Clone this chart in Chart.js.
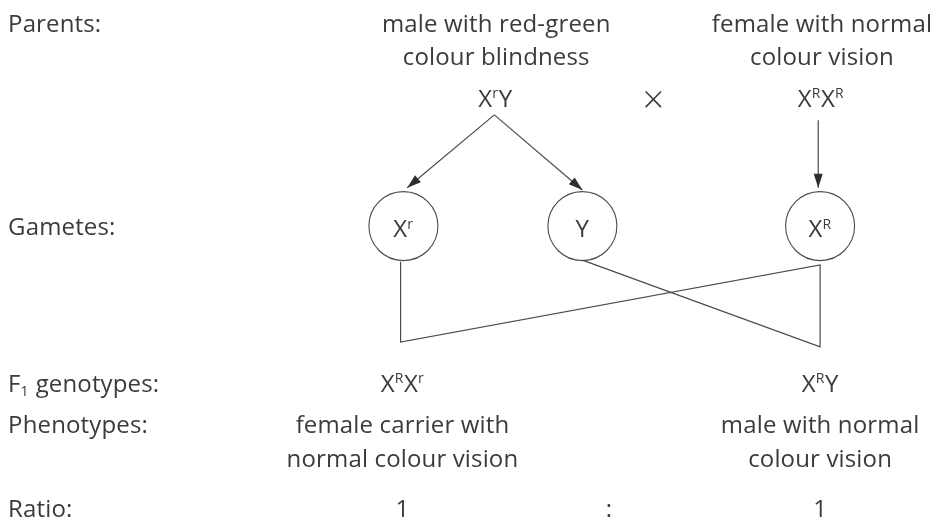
<!DOCTYPE html>
<html>
<head>
<meta charset="utf-8">
<script src="https://cdn.jsdelivr.net/npm/chart.js@4.4.0/dist/chart.umd.min.js"></script>
<style>
  html, body { margin: 0; padding: 0; background: #ffffff; }
  #wrap { width: 947px; height: 532px; position: relative; }
</style>
</head>
<body>
<div id="wrap"><canvas id="c" width="947" height="532"></canvas></div>
<script>
// ---- Diagram data (diagram units: x 0..100 left→right, y 0..100 top→bottom) ----
const rowLabels = ['Parents:', 'Gametes:', 'F_{1} genotypes:', 'Phenotypes:', 'Ratio:'];
const rowY = [6.0, 44.2, 73.7, 81.4, 97.2];

const parentPhenotypes = [['male with red-green', 'colour blindness'], ['female with normal', 'colour vision']];
const parentPhenoY = [6.0, 12.2];
const parentGenotypes = ['X^{r}Y', 'X^{R}X^{R}'];
const parentGenoY = 20.1;
const parentX = [52.4, 86.8];
const crossSymbol = '×';
const crossX = 69.0;
const crossY = 21.2;

const gametes = ['X^{r}', 'Y', 'X^{R}'];
const gameteX = [42.6, 61.5, 86.6];
const gameteY = 42.5;
const gameteTextY = 44.6;

const offspringGenotypes = ['X^{R}X^{r}', 'X^{R}Y'];
const offspringX = [42.5, 86.6];
const offspringPhenotypes = [['female carrier with', 'normal colour vision'], ['male with normal', 'colour vision']];
const offspringPhenoY = [81.4, 87.8];
const ratioValues = ['1', '1'];
const ratioSep = ':';
const ratioSepX = 64.3;

// arrows from parents to gametes
const arrowFrom = [[52.2, 21.6], [52.2, 21.6], [86.4, 22.6]];
const arrowTo = [[43.0, 35.3], [61.5, 35.7], [86.4, 35.3]];

// crossing lines from gametes to offspring
const crossLineX = [42.3, 42.3, 86.6, 86.6, 61.5];
const crossLineY = [49.2, 64.3, 49.8, 65.2, 48.9];

// ---- build datasets ----
const LINE = '#4a4a4a';
const TEXT = '#3b3b3b';
const FONT = '"Open Sans", "Noto Sans", sans-serif';

const datasets = [];
arrowFrom.forEach((f, i) => {
  datasets.push({
    type: 'line', showLine: true, arrow: true,
    data: [{x: f[0], y: f[1]}, {x: arrowTo[i][0], y: arrowTo[i][1]}],
    borderColor: LINE, borderWidth: 1.2, pointRadius: 0, fill: false
  });
});
datasets.push({
  type: 'line', showLine: true,
  data: crossLineX.map((x, i) => ({x, y: crossLineY[i]})),
  borderColor: LINE, borderWidth: 1.2, pointRadius: 0, fill: false, tension: 0
});
datasets.push({
  type: 'scatter',
  data: gameteX.map(x => ({x, y: gameteY})),
  pointRadius: 34.5, pointHoverRadius: 34.5,
  pointBackgroundColor: 'rgba(255,255,255,0)',
  pointBorderColor: LINE, pointBorderWidth: 1.1
});

// ---- labels ----
const labels = [];
rowLabels.forEach((t, i) => labels.push({t, x: 0.85, y: rowY[i], align: 'left', size: 24}));
parentPhenotypes.forEach((lines, i) => lines.forEach((t, j) => labels.push({t, x: parentX[i], y: parentPhenoY[j], align: 'center', size: 24})));
parentGenotypes.forEach((t, i) => labels.push({t, x: parentX[i] - 0.1, y: parentGenoY, align: 'center', size: 24}));
labels.push({t: crossSymbol, x: crossX, y: crossY, align: 'center', size: 38, light: true});
gametes.forEach((t, i) => labels.push({t, x: gameteX[i], y: gameteTextY, align: 'center', size: 24}));
offspringGenotypes.forEach((t, i) => labels.push({t, x: offspringX[i], y: rowY[2], align: 'center', size: 24}));
offspringPhenotypes.forEach((lines, i) => lines.forEach((t, j) => labels.push({t, x: offspringX[i], y: offspringPhenoY[j], align: 'center', size: 24})));
ratioValues.forEach((t, i) => labels.push({t, x: offspringX[i], y: rowY[4], align: 'center', size: 24}));
labels.push({t: ratioSep, x: ratioSepX, y: rowY[4], align: 'center', size: 24});

function parseRich(s) {
  const parts = [];
  const re = /([\^_])\{([^}]*)\}/g;
  let last = 0, m;
  while ((m = re.exec(s))) {
    if (m.index > last) parts.push({s: s.slice(last, m.index), k: ''});
    parts.push({s: m[2], k: m[1] === '^' ? 'sup' : 'sub'});
    last = re.lastIndex;
  }
  if (last < s.length) parts.push({s: s.slice(last), k: ''});
  return parts;
}

function drawRich(ctx, text, px, py, align, size, light) {
  const parts = parseRich(text);
  const small = Math.round(size * 0.6);
  const w = light ? '300 ' : '';
  let total = 0;
  parts.forEach(p => {
    ctx.font = w + (p.k ? small : size) + 'px ' + FONT;
    p.w = ctx.measureText(p.s).width + (p.k ? 0.5 : 0);
    total += p.w;
  });
  let x = align === 'center' ? px - total / 2 : px;
  parts.forEach(p => {
    ctx.font = w + (p.k ? small : size) + 'px ' + FONT;
    let dy = 0;
    if (p.k === 'sup') dy = -size * 0.36;
    if (p.k === 'sub') dy = size * 0.18;
    ctx.fillText(p.s, x, py + dy);
    x += p.w;
  });
}

const textPlugin = {
  id: 'diagramText',
  afterDatasetsDraw(chart) {
    const {ctx} = chart;
    const xs = chart.scales.x, ys = chart.scales.y;
    ctx.save();
    ctx.fillStyle = TEXT;
    ctx.textBaseline = 'alphabetic';
    ctx.textAlign = 'left';
    if ('wordSpacing' in ctx) ctx.wordSpacing = '4px';
    if ('letterSpacing' in ctx) ctx.letterSpacing = '0.15px';
    labels.forEach(l => {
      drawRich(ctx, l.t, xs.getPixelForValue(l.x), ys.getPixelForValue(l.y), l.align, l.size, l.light);
    });
    ctx.restore();
  }
};

const arrowPlugin = {
  id: 'arrowHeads',
  afterDatasetsDraw(chart) {
    const {ctx} = chart;
    chart.data.datasets.forEach((ds, i) => {
      if (!ds.arrow) return;
      const pts = chart.getDatasetMeta(i).data;
      const a = pts[pts.length - 2], b = pts[pts.length - 1];
      const ang = Math.atan2(b.y - a.y, b.x - a.x);
      const len = 14, hw = 4.5;
      ctx.save();
      ctx.translate(b.x, b.y);
      ctx.rotate(ang);
      ctx.beginPath();
      ctx.moveTo(0, 0);
      ctx.lineTo(-len, -hw);
      ctx.lineTo(-len, hw);
      ctx.closePath();
      ctx.fillStyle = '#2e2e2e';
      ctx.fill();
      ctx.restore();
    });
  }
};

new Chart(document.getElementById('c'), {
  type: 'scatter',
  data: {datasets},
  options: {
    responsive: false,
    animation: false,
    events: [],
    layout: {padding: 0, autoPadding: false},
    plugins: {legend: {display: false}, tooltip: {enabled: false}},
    scales: {
      x: {type: 'linear', min: 0, max: 100, display: false},
      y: {type: 'linear', min: 0, max: 100, reverse: true, display: false}
    }
  },
  plugins: [textPlugin, arrowPlugin]
});
</script>
</body>
</html>
